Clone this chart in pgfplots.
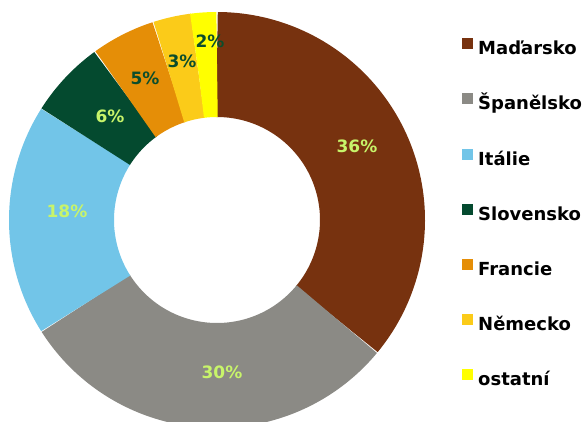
\documentclass[border=0pt]{standalone}
\usepackage{pgfplots}
\pgfplotsset{compat=1.18}
\usepackage{fontspec}
\setmainfont{DejaVu Sans}
\definecolor{cHU}{HTML}{77320F}
\definecolor{cES}{HTML}{8B8A85}
\definecolor{cIT}{HTML}{72C5E8}
\definecolor{cSK}{HTML}{044A2F}
\definecolor{cFR}{HTML}{E58E07}
\definecolor{cDE}{HTML}{FBCB19}
\definecolor{cOT}{HTML}{FFFF00}
\definecolor{labL}{HTML}{C8F46A}
\definecolor{labD}{HTML}{0B4D2C}
% centre (217,201) in axis units (1 unit = 1pt), outer radius 208, inner 103
\newcommand{\dcx}{217}
\newcommand{\dcy}{201}
\newcommand{\drm}{155.5}
\newcommand{\dring}{105pt}
\newcommand{\sector}[3]{%
  \addplot[color=#3, line width=\dring, line cap=butt, line join=miter, domain=#1:#2, samples=90, variable=\t]
    ({\dcx+\drm*sin(3.6*\t)},{\dcy+\drm*cos(3.6*\t)});}
\begin{document}
\begin{tikzpicture}
\path[use as bounding box] (0,0) rectangle (585pt,421pt);
\begin{axis}[
  at={(0,0)}, anchor=south west,
  scale only axis, width=585pt, height=421pt,
  xmin=0, xmax=585, ymin=0, ymax=421,
  hide axis, clip=true,
  legend image code/.code={\fill[#1,line width=0pt,draw=none] (0pt,1pt) rectangle (11pt,12pt); \path[line width=0pt] (16pt,0pt);},
  legend style={at={(axis cs:462,383)}, anchor=north west, draw=none, fill=none,
    font=\fontsize{18}{21}\selectfont\bfseries,
    row sep=34.7pt, column sep=0pt, inner sep=0pt,
    nodes={inner sep=0pt, text height=13pt, text depth=4pt}},
  legend cell align=left,
]
% values (%): Maďarsko 36, Španělsko 30, Itálie 18, Slovensko 6, Francie 5, Německo 3, ostatní 2
\sector{0}{36}{cHU}
\addlegendentry{Maďarsko}
\sector{36}{66}{cES}
\addlegendentry{Španělsko}
\sector{66}{84}{cIT}
\addlegendentry{Itálie}
\sector{84}{90}{cSK}
\addlegendentry{Slovensko}
\sector{90}{95}{cFR}
\addlegendentry{Francie}
\sector{95}{98}{cDE}
\addlegendentry{Německo}
\sector{98}{100}{cOT}
\addlegendentry{ostatní}
\begin{scope}[every node/.style={font=\fontsize{17}{20}\selectfont\bfseries}]
\node[text=labL] at (axis cs:357,275) {36\%};
\node[text=labL] at (axis cs:222,49) {30\%};
\node[text=labL] at (axis cs:67,210) {18\%};
\node[text=labL] at (axis cs:110,305) {6\%};
\node[text=labD] at (axis cs:145,343) {5\%};
\node[text=labD] at (axis cs:182,360) {3\%};
\node[text=labD] at (axis cs:210,380) {2\%};
\end{scope}
\end{axis}
\end{tikzpicture}
\end{document}
